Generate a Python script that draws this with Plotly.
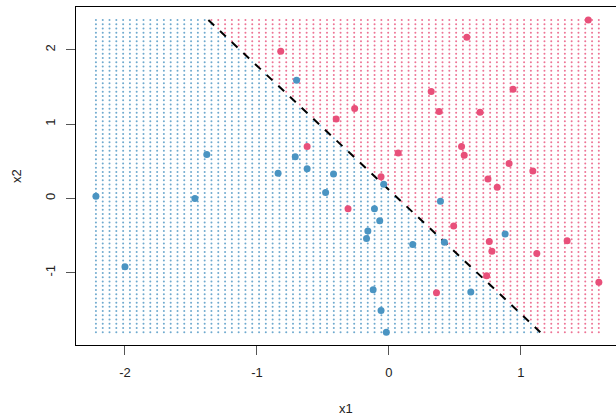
import numpy as np
import plotly.graph_objects as go

# class -1 (blue) observations
blue_x = [-2.22, -2.00, -1.47, -1.38, -0.84, -0.71, -0.70, -0.62, -0.42, -0.48,
          -0.11, -0.07, -0.16, -0.17, -0.04, 0.18, 0.42, 0.39, -0.12, -0.06,
          -0.02, 0.62, 0.88]
blue_y = [0.03, -0.92, 0.00, 0.59, 0.34, 0.56, 1.59, 0.40, 0.33, 0.08,
          -0.14, -0.30, -0.44, -0.54, 0.19, -0.62, -0.59, -0.04, -1.23, -1.51,
          -1.80, -1.26, -0.48]
# class +1 (pink) observations
pink_x = [-0.82, -0.62, -0.26, -0.40, -0.31, -0.06, 0.07, 0.49, 1.51, 0.59,
          0.32, 0.94, 0.38, 0.69, 0.76, 0.78, 1.12, 1.35, 0.74, 0.36,
          1.59, 0.55, 0.57, 0.91, 0.75, 0.82, 1.09]
pink_y = [1.98, 0.70, 1.21, 1.07, -0.14, 0.29, 0.61, -0.37, 2.40, 2.17,
          1.44, 1.47, 1.17, 1.16, -0.58, -0.71, -0.74, -0.57, -1.04, -1.27,
          -1.13, 0.70, 0.58, 0.47, 0.26, 0.15, 0.37]

# decision boundary x2 = b0 + b1 * x1
b0 = 0.115
b1 = -1.670
grid_n = 75

blue_col = "#4A94C2"
pink_col = "#E8507A"

all_x = np.array(blue_x + pink_x)
all_y = np.array(blue_y + pink_y)
gx = np.linspace(all_x.min(), all_x.max(), grid_n)
gy = np.linspace(all_y.min(), all_y.max(), grid_n)
GX, GY = np.meshgrid(gx, gy)
GX = GX.ravel(); GY = GY.ravel()
above = GY > b0 + b1 * GX

fig = go.Figure()
fig.add_trace(go.Scatter(x=GX[~above], y=GY[~above], mode="markers",
                         marker=dict(size=2, color=blue_col, opacity=0.8),
                         hoverinfo="skip", showlegend=False))
fig.add_trace(go.Scatter(x=GX[above], y=GY[above], mode="markers",
                         marker=dict(size=2, color=pink_col, opacity=0.8),
                         hoverinfo="skip", showlegend=False))
# boundary line across the grid
ly = np.array([gy.max(), gy.min()])
lx = (ly - b0) / b1
fig.add_trace(go.Scatter(x=lx, y=ly, mode="lines",
                         line=dict(color="black", width=2, dash="8px,8px"),
                         hoverinfo="skip", showlegend=False))
fig.add_trace(go.Scatter(x=blue_x, y=blue_y, mode="markers",
                         marker=dict(size=7, color=blue_col), showlegend=False))
fig.add_trace(go.Scatter(x=pink_x, y=pink_y, mode="markers",
                         marker=dict(size=7, color=pink_col), showlegend=False))

font = dict(family="Liberation Sans, Arial, sans-serif", size=13, color="#222")
fig.update_layout(
    width=616, height=416,
    margin=dict(l=76, r=0, t=7, b=71),
    plot_bgcolor="white", paper_bgcolor="white",
    font=font,
    xaxis=dict(range=[-2.371, 1.720], tickvals=[-2, -1, 0, 1], ticktext=["-2", "-1", "0", "1"],
               ticks="outside", ticklen=9, tickcolor="#555", tickwidth=1,
               showline=True, linecolor="black", linewidth=1, mirror=True,
               showgrid=False, zeroline=False, ticklabelstandoff=6),
    yaxis=dict(range=[-1.973, 2.576], tickvals=[-1, 0, 1, 2], ticktext=["-1", "0", "1", "2"],
               ticks="outside", ticklen=9, tickcolor="#555", tickwidth=1, tickangle=-90,
               showline=True, linecolor="black", linewidth=1, mirror=False,
               showgrid=False, zeroline=False, ticklabelstandoff=6),
    annotations=[
        dict(text="x1", xref="paper", yref="paper", x=0.5, y=-63/338, xanchor="center",
             yanchor="middle", showarrow=False, font=font),
        dict(text="x2", xref="paper", yref="paper", x=-60/540, y=0.5, xanchor="center",
             yanchor="middle", showarrow=False, textangle=-90, font=font),
    ],
)
fig.write_html("out.html", config={"displayModeBar": False},
               post_script="document.body.style.margin='0px';document.body.style.overflow='hidden';")
